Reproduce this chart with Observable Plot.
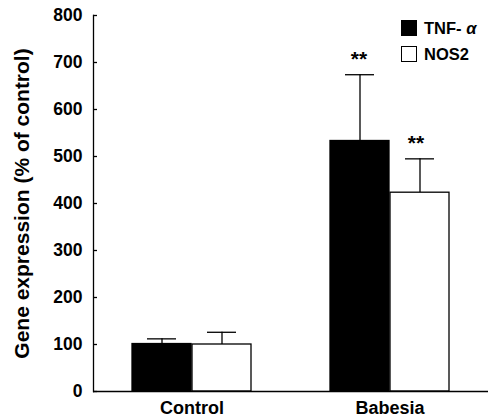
<!DOCTYPE html>
<html>
<head>
<meta charset="utf-8">
<script src="https://cdn.jsdelivr.net/npm/d3@7"></script>
<script src="https://cdn.jsdelivr.net/npm/@observablehq/plot@0.6"></script>
<style>
  html, body { margin: 0; padding: 0; background: #fff; }
  #wrap { position: relative; width: 488px; height: 418px; font-family: "Liberation Sans", Arial, sans-serif; }
  #wrap svg { display: block; }
  #legend { position: absolute; left: 401px; top: 20px; font-weight: bold; font-size: 16.5px; color: #000; line-height: 16px; }
  #legend .row { display: flex; align-items: center; height: 16px; margin-bottom: 10px; }
  #legend .sw { width: 14px; height: 14px; border: 1.3px solid #000; margin-right: 7px; box-sizing: content-box; }
</style>
</head>
<body>
<div id="wrap"><div id="legend"></div></div>
<script>
const groups = ["Control", "Babesia"];
const series = ["TNF- α", "NOS2"];
const seriesColors = ["black", "white"];
const tnfValues = [101, 533];
const tnfUpper = [112, 674];
const nos2Values = [100, 423];
const nos2Upper = [126, 495];
const significance = ["", "**"];
const yTicks = [0, 100, 200, 300, 400, 500, 600, 700, 800];
const yLabel = "Gene expression (% of control)";

const tnfRows = groups.map((g, i) => ({group: g, value: tnfValues[i], hi: tnfUpper[i], sig: significance[i]}));
const nosRows = groups.map((g, i) => ({group: g, value: nos2Values[i], hi: nos2Upper[i], sig: significance[i]}));

const font = "'Liberation Sans', Arial, sans-serif";
const line = {stroke: "black", strokeWidth: 1.3};
const half = 60;   // half of each group band (two adjacent bars)
const seriesMarks = (rows, color, side) => {
  const off = side < 0 ? -half / 2 : half / 2;
  const barInset = side < 0 ? {insetLeft: 0, insetRight: half} : {insetLeft: half, insetRight: 0};
  const capInset = side < 0 ? {insetLeft: 15, insetRight: half + 15} : {insetLeft: half + 15, insetRight: 15};
  return [
    Plot.ruleX(rows, {x: "group", y1: "value", y2: "hi", dx: off, ...line}),
    Plot.tickY(rows, {x: "group", y: "hi", ...capInset, ...line}),
    Plot.barY(rows, {x: "group", y: "value", fill: color, ...barInset, ...line}),
    Plot.text(rows.filter(d => d.sig), {x: "group", y: "hi", text: "sig", dx: side < 0 ? off - 1 : off - 4, lineAnchor: "bottom", dy: -9, fontSize: 21, fontWeight: "bold", fill: "black"})
  ];
};

const chart = Plot.plot({
  width: 488,
  height: 418,
  marginLeft: 93,
  marginRight: 0,
  marginTop: 15,
  marginBottom: 27,
  style: {fontFamily: font, background: "white", color: "black", overflow: "visible"},
  x: {domain: groups, paddingInner: 0.397, paddingOuter: 0.191, axis: null},
  y: {domain: [0, 800], axis: null},
  marks: [
    ...seriesMarks(tnfRows, seriesColors[0], -1),
    ...seriesMarks(nosRows, seriesColors[1], 1),
    Plot.axisY({ticks: yTicks, tickSize: 0, tickPadding: 11, fontSize: 17.5, fontWeight: "bold", label: null, fill: "black"}),
    Plot.axisY({ticks: [], tickSize: 0, fontSize: 21, fontWeight: "bold", label: yLabel, labelAnchor: "center", labelArrow: "none", labelOffset: 79, fill: "black"}),
    Plot.axisY({ticks: yTicks, tickSize: 4, dx: 4, text: null, label: null, ...line}),
    Plot.axisX({anchor: "bottom", tickSize: 0, tickPadding: 10, fontSize: 18, fontWeight: "bold", label: null, fill: "black"}),
    Plot.frame({anchor: "left", ...line}),
    Plot.ruleY([0], line)
  ]
});
document.getElementById("wrap").prepend(chart);

const legend = document.getElementById("legend");
series.forEach((s, i) => {
  const row = document.createElement("div");
  row.className = "row";
  const sw = document.createElement("span");
  sw.className = "sw";
  sw.style.background = seriesColors[i];
  const label = document.createElement("span");
  if (s.includes("α")) {
    label.append(s.replace("α", ""));
    const a = document.createElement("i");
    a.textContent = "α";
    label.append(a);
  } else {
    label.textContent = s;
  }
  row.append(sw, label);
  legend.append(row);
});
</script>
</body>
</html>
